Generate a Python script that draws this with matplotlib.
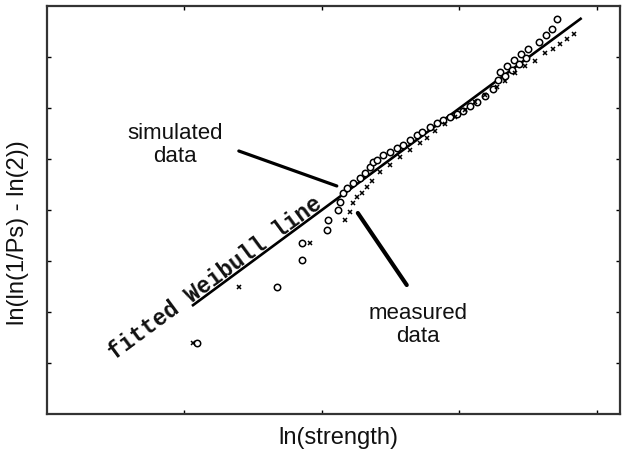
import matplotlib
matplotlib.use("Agg")
import matplotlib.pyplot as plt
import numpy as np

# ---- data (arbitrary ln units) ----
sim_x = [1.091, 1.673, 1.855, 1.855, 2.036, 2.044, 2.116, 2.131, 2.153, 2.182,
         2.225, 2.276, 2.313, 2.349, 2.371, 2.400, 2.444, 2.495, 2.545, 2.589,
         2.640, 2.691, 2.727, 2.785, 2.836, 2.880, 2.931, 2.982, 3.025, 3.076,
         3.127, 3.185, 3.244, 3.280, 3.295, 3.331, 3.345, 3.382, 3.396, 3.433,
         3.447, 3.484, 3.498, 3.578, 3.629, 3.673, 3.709]
sim_y = [1.392, 2.490, 3.020, 3.353, 3.608, 3.804, 4.000, 4.157, 4.333, 4.431,
         4.529, 4.627, 4.725, 4.843, 4.941, 4.980, 5.078, 5.137, 5.216, 5.275,
         5.373, 5.471, 5.529, 5.627, 5.706, 5.765, 5.824, 5.882, 5.941, 6.039,
         6.118, 6.235, 6.373, 6.549, 6.706, 6.627, 6.824, 6.745, 6.941, 6.863,
         7.059, 6.980, 7.157, 7.294, 7.431, 7.549, 7.745]

meas_x = [1.062, 1.396, 1.913, 2.167, 2.204, 2.225, 2.255, 2.291, 2.327, 2.364,
          2.422, 2.495, 2.567, 2.640, 2.713, 2.764, 2.822, 2.895, 2.967, 3.040,
          3.113, 3.185, 3.273, 3.331, 3.404, 3.476, 3.549, 3.622, 3.680, 3.731,
          3.782, 3.833]
meas_y = [1.392, 2.490, 3.353, 3.804, 3.961, 4.137, 4.255, 4.333, 4.451, 4.569,
          4.74, 4.88, 5.03, 5.17, 5.32, 5.42, 5.54, 5.68, 5.83, 5.97,
          6.12, 6.26, 6.42, 6.53, 6.68, 6.82, 6.93, 7.08, 7.15, 7.25,
          7.35, 7.45]

# fitted Weibull line: y = m * x + b over fit range
fit_m = 1.991
fit_b = 0.018
fit_range = [1.055, 3.891]

x_ticks = [1, 2, 3, 4]
y_ticks = [1, 2, 3, 4, 5, 6, 7]

plt.rcParams['font.family'] = ['Liberation Sans', 'DejaVu Sans']

fig = plt.figure(figsize=(6.22, 4.53), dpi=100)
ax = fig.add_axes([47/622, 1-414/453, (620-47)/622, (414-6)/453])

ax.set_xlim(0, 4.17)
ax.set_ylim(0, 8)

fx = np.array(fit_range)
ax.plot(fx, fit_m * fx + fit_b, color='black', lw=1.9, solid_capstyle='butt', zorder=3)

ax.plot(sim_x, sim_y, linestyle='none', marker='o', markersize=4.6,
        markerfacecolor='white', markeredgecolor='black', markeredgewidth=1.1, zorder=4)
ax.plot(meas_x, meas_y, linestyle='none', marker='x', markersize=3.2,
        color='black', markeredgewidth=1.1, zorder=5)

# annotation pointers
ax.plot([1.396, 2.109], [5.157, 4.471], color='black', lw=2.3, solid_capstyle='round')
ax.plot([2.262, 2.618], [3.941, 2.529], color='black', lw=3.0, solid_capstyle='round')

ax.text(0.931, 5.275, "simulated\ndata", ha='center', va='center', fontsize=16,
        linespacing=1.15, color='#111111')
ax.text(2.698, 1.745, "measured\ndata", ha='center', va='center', fontsize=16,
        linespacing=1.15, color='#111111')
ax.text(1.222, 2.667, "fitted Weibull line", ha='center', va='center',
        rotation=36.4, rotation_mode='anchor', fontsize=16.3,
        family=['Liberation Mono', 'DejaVu Sans Mono'], fontweight='bold', color='#111111')

ax.set_xticks(x_ticks)
ax.set_yticks(y_ticks)
ax.tick_params(direction='in', length=3, width=1, top=True, right=True,
               labelbottom=False, labelleft=False)
for s in ax.spines.values():
    s.set_linewidth(1.6)
    s.set_color('#333333')

fig.text(338/622, 1-438/453, "ln(strength)", ha='center', va='center', fontsize=17, color='#111111')
fig.text(18/622, 1-233/453, "ln(ln(1/Ps) - ln(2))", ha='center', va='center', rotation=90,
         fontsize=17, color='#111111')

fig.savefig("out.png", dpi=100)
